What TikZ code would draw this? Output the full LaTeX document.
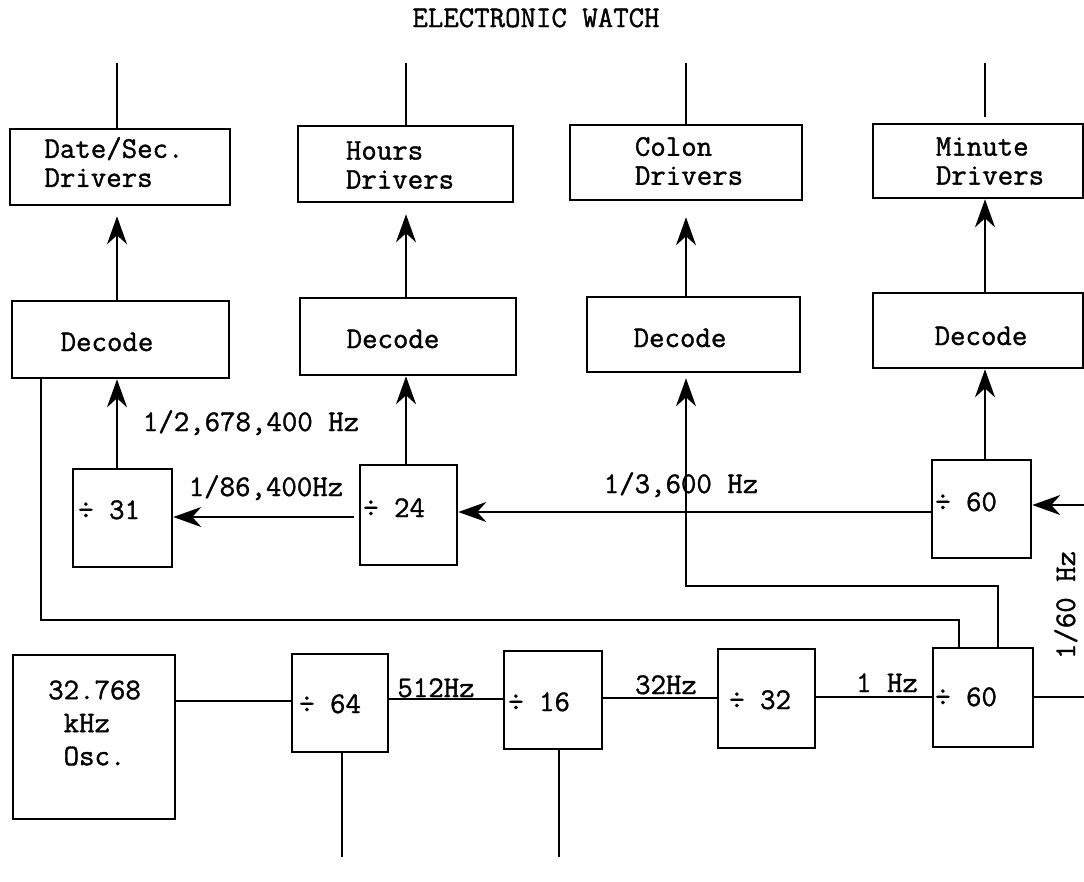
\documentclass[tikz,border=0pt]{standalone}
\usepackage{fontspec}
\usetikzlibrary{arrows.meta}
\newfontfamily\wfam{Latin Modern Mono}[FakeBold=1.2]
\newcommand\wfont{\wfam\fontsize{30}{29}\selectfont}
\tikzset{
  box/.style={draw, line width=2.6pt, inner sep=0pt},
  wire/.style={line width=2.1pt},
  arr/.style={wire, -{Stealth[length=28pt,width=20pt,inset=9pt]}},
  txt/.style={inner sep=0pt, font=\wfont},
  lbl/.style={txt, text height=18pt, text depth=0pt},
}
\begin{document}
\begin{tikzpicture}[x=1pt,y=-1pt]
\useasboundingbox (0,0) rectangle (1084,881);
% title
\node[lbl] (title) at (536,18) {ELECTRONIC WATCH};
% driver boxes
\node[box, minimum width=220pt, minimum height=76pt] (dsD) at (120,167) {};
\node[box, minimum width=215pt, minimum height=76pt] (hD) at (405.5,164) {};
\node[box, minimum width=232pt, minimum height=75pt] (cD) at (686,162.5) {};
\node[box, minimum width=210pt, minimum height=74pt] (mD) at (978,161) {};
\node[txt, align=left] (dsDt) at (114,162) {Date/Sec.\\Drivers};
\node[txt, align=left] (hDt) at (400,165) {Hours\\Drivers};
\node[txt, align=left] (cDt) at (689,161) {Colon\\Drivers};
\node[txt, align=left] (mDt) at (990,161) {Minute\\Drivers};
% decode boxes
\node[box, minimum width=217pt, minimum height=77pt] (dsC) at (120.5,339.5) {};
\node[box, minimum width=216pt, minimum height=77pt] (hC) at (408,336.5) {};
\node[box, minimum width=213pt, minimum height=75pt] (cC) at (693.5,334.5) {};
\node[box, minimum width=210pt, minimum height=75pt] (mC) at (978,330.5) {};
\node[lbl] (dsCt) at (107,342) {Decode};
\node[lbl] (hCt) at (393,339) {Decode};
\node[lbl] (cCt) at (680,338) {Decode};
\node[lbl] (mCt) at (981,336) {Decode};
% counters, upper row
\node[box, minimum width=99pt, minimum height=98pt] (d31) at (122.5,518) {};
\node[box, minimum width=97pt, minimum height=100pt] (d24) at (408.5,515) {};
\node[box, minimum width=99pt, minimum height=98pt] (d60u) at (981.5,509) {};
\node[lbl, anchor=west] (d31t) at (78,510) {÷ 31};
\node[lbl, anchor=west] (d24t) at (363,508) {÷ 24};
\node[lbl, anchor=west] (d60ut) at (935,502) {÷ 60};
% lower row
\node[box, minimum width=162pt, minimum height=164pt] (osc) at (94,737) {};
\node[txt, align=left, anchor=west] (osct) at (48,723) {32.768\\[4pt]\phantom{3}kHz\\[4pt]\phantom{3}Osc.};
\node[box, minimum width=96pt, minimum height=98pt] (d64) at (340,703) {};
\node[box, minimum width=98pt, minimum height=98pt] (d16) at (553,700) {};
\node[box, minimum width=97pt, minimum height=99pt] (d32) at (766.5,698.5) {};
\node[box, minimum width=100pt, minimum height=99pt] (d60l) at (983,697.5) {};
\node[lbl, anchor=west] (d64t) at (299,704) {÷ 64};
\node[lbl, anchor=west] (d16t) at (508,702) {÷ 16};
\node[lbl, anchor=west] (d32t) at (729,700) {÷ 32};
\node[lbl, anchor=west] (d60lt) at (935,697) {÷ 60};
% labels
\node[lbl] (l1) at (251,422) {1/2,678,400 Hz};
\node[lbl] (l2) at (266,487) {1/86,400Hz};
\node[lbl] (l3) at (681,484) {1/3,600 Hz};
\node[lbl] (l4) at (436,688) {512Hz};
\node[lbl] (l5) at (666,685) {32Hz};
\node[lbl] (l6) at (887,683) {1 Hz};
\node[lbl, rotate=90] (l7) at (1066,605) {1/60 Hz};
% coordinates
\coordinate (xa) at (117,63);
\coordinate (xb) at (406,63);
\coordinate (xc) at (686,63);
\coordinate (xd) at (985,63);
\coordinate (ya) at (0,517);
\coordinate (yb) at (0,512);
\coordinate (inR) at (1084,505);
\coordinate (outR) at (1084,697);
\coordinate (f1) at (41,620);
\coordinate (f2) at (959,620);
\coordinate (g1) at (998,586);
\coordinate (g2) at (686,586);
\coordinate (b1) at (0,701);
\coordinate (b2) at (0,699);
\coordinate (b3) at (0,698);
\coordinate (b4) at (0,697);
\coordinate (e1) at (342,857);
\coordinate (e2) at (559,857);
% outputs at top
\draw[wire] (dsD.north -| xa) -- (xa);
\draw[wire] (hD.north -| xb) -- (xb);
\draw[wire] (cD.north -| xc) -- (xc);
\draw[wire, shorten <=6pt] (mD.north -| xd) -- (xd);
% decode -> drivers
\draw[arr, shorten >=10pt] (dsC.north -| xa) -- (dsD.south -| xa);
\draw[arr, shorten >=11pt] (hC.north -| xb) -- (hD.south -| xb);
\draw[arr, shorten >=16pt] (cC.north -| xc) -- (cD.south -| xc);
\draw[arr] (mC.north -| xd) -- (mD.south -| xd);
% counters -> decode
\draw[arr] (d31.north -| xa) -- (dsC.south -| xa);
\draw[arr] (d24.north -| xb) -- (hC.south -| xb);
\draw[arr] (d60u.north -| xd) -- (mC.south -| xd);
% counter chain (upper)
\draw[arr, shorten <=5pt] (d24.west |- ya) -- (d31.east |- ya);
\draw[arr] (d60u.west |- yb) -- (d24.east |- yb);
\draw[arr] (inR) -- (d60u.east |- inR);
\draw[wire] (d60l.east |- outR) -- (outR);
% feedback lines
\draw[wire] (dsC.south -| f1) -- (f1) -- (f2) -- (f2 |- d60l.north);
\draw[arr, shorten >=5pt] (g1 |- d60l.north) -- (g1) -- (g2) -- (g2 |- cC.south);
% lower chain
\draw[wire] (osc.east |- b1) -- (d64.west |- b1);
\draw[wire] (d64.east |- b2) -- (d16.west |- b2);
\draw[wire] (d16.east |- b3) -- (d32.west |- b3);
\draw[wire] (d32.east |- b4) -- (d60l.west |- b4);
\draw[wire] (d64.south -| e1) -- (e1);
\draw[wire] (d16.south -| e2) -- (e2);
\end{tikzpicture}
\end{document}
